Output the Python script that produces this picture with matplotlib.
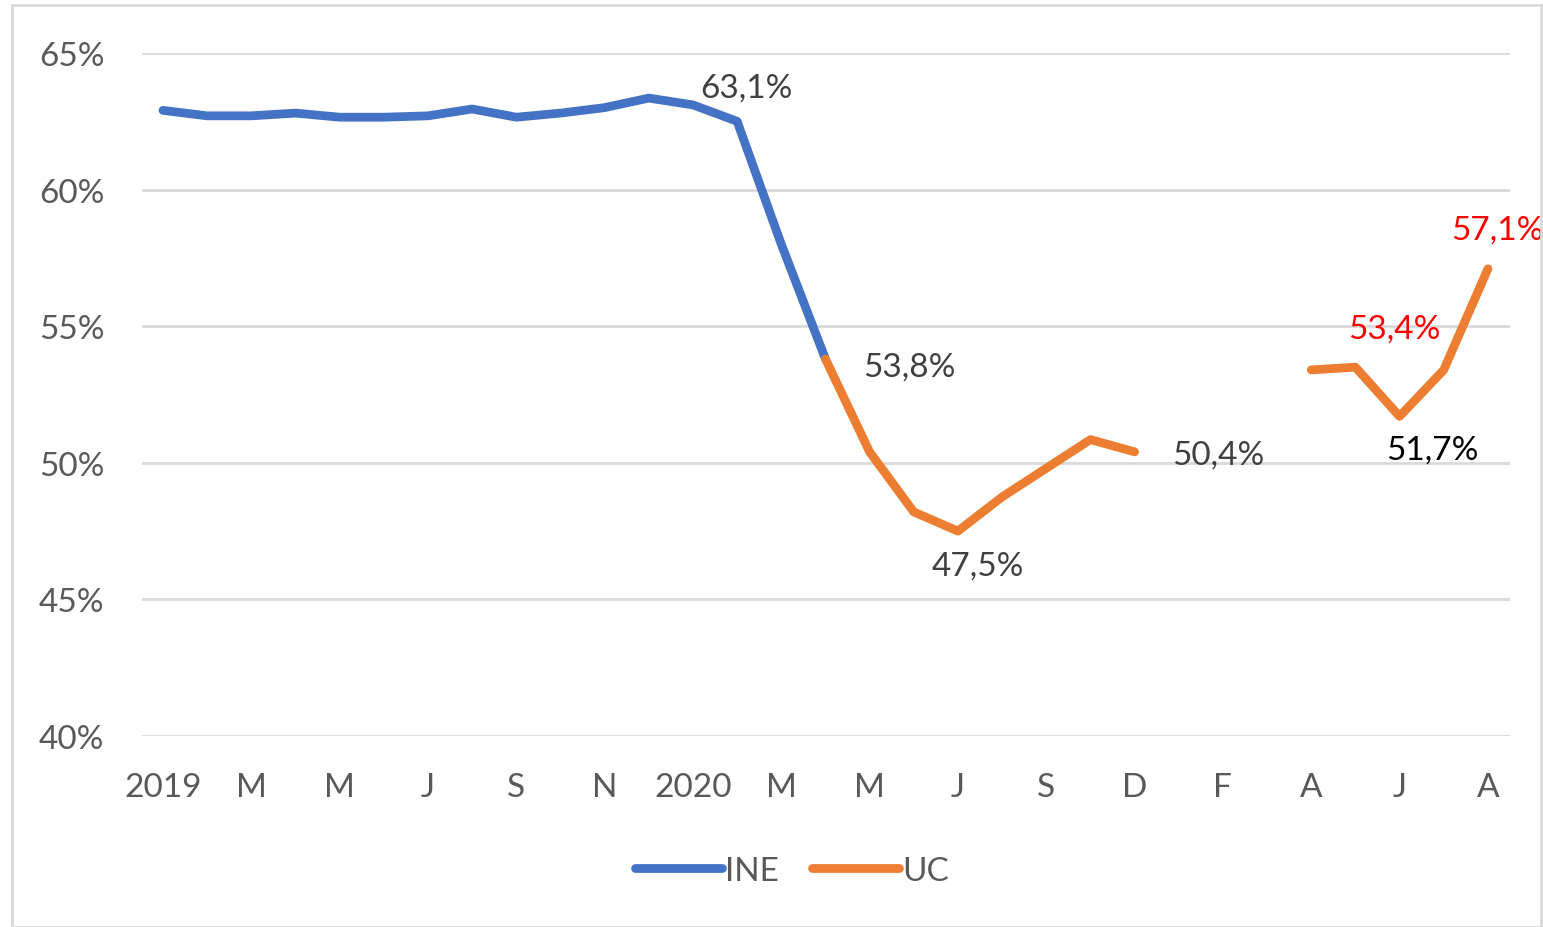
import numpy as np
import matplotlib
matplotlib.use("Agg")
import matplotlib.pyplot as plt
from matplotlib.patches import Rectangle

plt.rcParams['font.family'] = ['Lato', 'DejaVu Sans']

# data (monthly, Jan 2019 .. Aug 2021 on a category axis)
nan = np.nan
ine = [62.9, 62.7, 62.7, 62.8, 62.65, 62.65, 62.7, 62.95, 62.65, 62.8, 63.0, 63.35,
       63.1, 62.5, 58.0, 53.8] + [nan] * 15
uc = [nan] * 15 + [53.8, 50.4, 48.2, 47.5, 48.75, 49.8, 50.85, 50.4, nan, nan, nan,
                   53.4, 53.5, 51.7, 53.4, 57.1]
tick_labels = ['2019', 'M', 'M', 'J', 'S', 'N', '2020', 'M', 'M', 'J', 'S', 'D', 'F', 'A', 'J', 'A']
# (index, text, series, colour, offset in pixels)
labels = [(12, '63,1%', ine, '#404040', (53, 17)),
          (15, '53,8%', uc, '#404040', (84, -8)),
          (18, '47,5%', uc, '#404040', (20, -34)),
          (22, '50,4%', uc, '#404040', (84, -3)),
          (29, '53,4%', uc, '#FF0000', (-49, 41)),
          (28, '51,7%', uc, '#000000', (33, -33)),
          (30, '57,1%', uc, '#FF0000', (9, 39))]

fs = 24
x = np.arange(len(ine))
fig = plt.figure(figsize=(15.43, 9.28), dpi=100)
ax = fig.add_axes([142/1543, 1-737/928, (1510-142)/1543, (737-54)/928])

ax.plot(x, ine, color='#4472C4', lw=6.3, solid_capstyle='round', solid_joinstyle='round', label='INE')
ax.plot(x, uc, color='#ED7D31', lw=6.3, solid_capstyle='round', solid_joinstyle='round', label='UC')

for i, txt, s, c, off in labels:
    ax.annotate(txt, (x[i], s[i]), xytext=off, textcoords='offset pixels',
                ha='center', va='center', fontsize=fs, color=c)

ax.set_ylim(40, 65)
ax.set_xlim(-0.475, 30.5)
ax.set_yticks(np.arange(40, 66, 5))
ax.set_yticklabels([f'{v}%' for v in range(40, 66, 5)])
ax.set_xticks(x[::2])
ax.set_xticklabels(tick_labels)
ax.grid(axis='y', color='#d9d9d9', lw=2)
ax.set_axisbelow(True)
for sp in ax.spines.values():
    sp.set_visible(False)
ax.tick_params(length=0, labelsize=fs, labelcolor='#595959')
ax.tick_params(axis='y', pad=27)
ax.tick_params(axis='x', pad=26)

fig.legend(loc='center', bbox_to_anchor=(792/1543, 1-872/928), ncol=2, frameon=False,
           fontsize=fs, handlelength=2.6, handletextpad=0.1, columnspacing=1.0,
           labelcolor='#595959')

fig.patches.append(Rectangle((12/1543, 0), (1541-12)/1543, 1-6/928, transform=fig.transFigure,
                             fill=False, edgecolor='#d9d9d9', lw=2))

fig.savefig('out.png', dpi=100)
